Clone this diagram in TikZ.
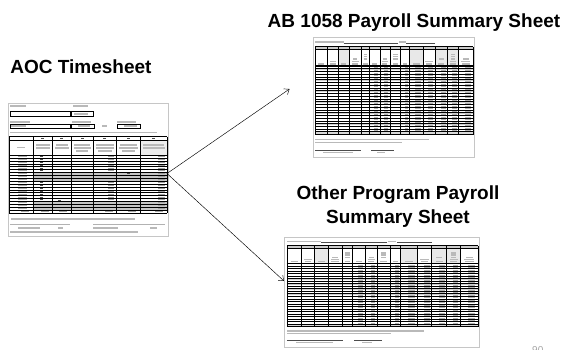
\documentclass[tikz,border=0pt]{standalone}
\usepackage{fontspec}
\setmainfont{Liberation Sans}
\usetikzlibrary{arrows.meta}
\tikzset{
  title/.style={font=\fontsize{19}{23}\selectfont\bfseries, inner sep=0pt, anchor=base},
  conn/.style={draw=black, line width=0.45pt, -{Straight Barb[length=4.5pt,width=7pt,line width=0.45pt]}},
  sheetborder/.style={draw=gray!45, line width=0.5pt, fill=white},
  txt/.style={fill=gray!55},
  dtxt/.style={fill=black!75},
  grid/.style={draw=black, line width=0.7pt},
  rowline/.style={draw=black, line width=0.35pt},
  fieldline/.style={draw=black!70, line width=0.5pt},
  pagenum/.style={font=\fontsize{10}{12}\selectfont, text=gray!70, inner sep=0pt, anchor=base west}
}
% summary sheet: #1 name, #2 x0, #3 y0, #4 width, #5 height (pixels)
\newcommand\sumsheet[5]{%
\begin{scope}[shift={(#2pt,-#3pt)}, x=#4pt, y=-#5pt]
  \draw[sheetborder] (0,0) rectangle (1,1);
  \coordinate (#1) at (0,0.5);
  % header line
  \fill[txt] (0.015,0.032) rectangle (0.19,0.048);
  \draw[fieldline] (0.19,0.05) -- (0.53,0.05);
  \fill[txt] (0.535,0.032) rectangle (0.575,0.048);
  \draw[fieldline] (0.58,0.05) -- (0.76,0.05);
  % header shading
  \fill[gray!18] (0.157,0.105) rectangle (0.225,0.24);
  \fill[gray!18] (0.597,0.105) rectangle (0.683,0.24);
  \fill[gray!18] (0.758,0.105) rectangle (0.904,0.24);
  % letter row
  \fill[gray!40] (0.015,0.08) rectangle (0.995,0.105);
  % header texts
  \foreach \a/\b in {0.015/0.09,0.09/0.157,0.157/0.225,0.225/0.298,0.298/0.353,0.353/0.416,0.416/0.478,0.478/0.545,0.545/0.597,0.597/0.683,0.683/0.758,0.758/0.835,0.835/0.904,0.904/0.995}{
    \fill[txt] ({\a+0.25*(\b-\a)},0.218) rectangle ({\b-0.25*(\b-\a)},0.23);
  }
  \foreach \a/\b in {0.09/0.157,0.225/0.298,0.416/0.478,0.683/0.758,0.835/0.904,0.904/0.995}{
    \fill[txt] ({\a+0.2*(\b-\a)},0.198) rectangle ({\b-0.2*(\b-\a)},0.21);
  }
  \foreach \a/\b in {0.225/0.298,0.298/0.353,0.416/0.478,0.478/0.545,0.758/0.835,0.835/0.904,0.904/0.995}{
    \fill[txt] ({\a+0.3*(\b-\a)},0.178) rectangle ({\b-0.3*(\b-\a)},0.19);
  }
  \foreach \a/\b in {0.298/0.353,0.478/0.545,0.835/0.904}{
    \fill[txt] ({\a+0.3*(\b-\a)},0.158) rectangle ({\b-0.3*(\b-\a)},0.17);
    \fill[txt] ({\a+0.3*(\b-\a)},0.138) rectangle ({\b-0.3*(\b-\a)},0.15);
  }
  % data rows
  \foreach \i in {0,...,23}{
    \pgfmathsetmacro\ya{0.24+\i*0.02292}
    \fill[gray!38] (0.015,\ya) rectangle (0.995,{\ya+0.009});
    \draw[rowline] (0.015,\ya) -- (0.995,\ya);
    \foreach \a/\b in {0.353/0.416,0.416/0.478,0.545/0.597,0.597/0.683,0.683/0.758,0.758/0.835,0.835/0.904,0.904/0.995}{
      \fill[gray!60] ({\b-0.55*(\b-\a)},{\ya+0.011}) rectangle ({\b-0.15*(\b-\a)},{\ya+0.019});
    }
  }
  % totals row
  \fill[gray!30] (0.015,0.79) rectangle (0.995,0.815);
  % grid
  \foreach \y in {0.08,0.105,0.24,0.79,0.815}{
    \draw[grid] (0.015,\y) -- (0.995,\y);
  }
  \foreach \c in {0.015,0.09,0.157,0.225,0.298,0.353,0.416,0.478,0.545,0.597,0.683,0.758,0.835,0.904,0.995}{
    \draw[grid] (\c,0.08) -- (\c,0.815);
  }
  % footer texts
  \fill[txt] (0.015,0.848) rectangle (0.72,0.86);
  \fill[txt] (0.015,0.873) rectangle (0.55,0.885);
  \draw[fieldline] (0.015,0.94) -- (0.3,0.94);
  \draw[fieldline] (0.36,0.94) -- (0.5,0.94);
  \fill[txt] (0.06,0.955) rectangle (0.25,0.967);
  \fill[txt] (0.4,0.955) rectangle (0.45,0.967);
\end{scope}}

\begin{document}
\begin{tikzpicture}[x=1pt,y=-1pt]
\useasboundingbox (0,0) rectangle (565,349);
\fill[white] (0,0) rectangle (565,349);

% titles
\node[title] (aoctitle) at (81,73) {AOC Timesheet};
\node[title] (abtitle) at (414,27.5) {AB 1058 Payroll Summary Sheet};
\node[title] (ottitle1) at (398,199.5) {Other Program Payroll};
\node[title] (ottitle2) at (398,223.5) {Summary Sheet};

% ---------- AOC timesheet ----------
\begin{scope}
  \draw[sheetborder] (8,103) rectangle (168,236);
  \coordinate (timesheet) at (167,173.5);
  % top fields
  \fill[txt] (10,104.8) rectangle (26,106.5);
  \fill[txt] (73,104.8) rectangle (88,106.5);
  \draw[black, line width=0.6pt] (10,111.5) rectangle (70,116);
  \draw[black, line width=0.6pt] (71.5,111.5) rectangle (93,116);
  \fill[txt] (74,113) rectangle (88,114.6);
  \fill[txt] (10,120.8) rectangle (30,122.5);
  \fill[txt] (72,120.8) rectangle (91,122.5);
  \fill[txt] (117,120.8) rectangle (136,122.5);
  \draw[black, line width=0.6pt] (10,124) rectangle (70,128.3);
  \fill[txt] (11,125.4) rectangle (26,127);
  \draw[black, line width=0.6pt] (71.5,124) rectangle (94,128.3);
  \fill[txt] (78,125.4) rectangle (90,127);
  \fill[txt] (102,125.4) rectangle (107,127);
  \draw[black, line width=0.6pt] (117,124) rectangle (140,128.3);
  \fill[txt] (124,125.4) rectangle (137,127);
  \fill[txt] (10,131.5) rectangle (157,133.2);
  % gray rows
  \fill[gray!45] (33,172.4) rectangle (167,181.1);
  \fill[gray!45] (33,201.4) rectangle (167,210);
  \fill[gray!15] (140,140.5) rectangle (167,155);
  % letter row marks
  \foreach \a/\b in {33/52.5,52.5/71,71/93,93/116.5,116.5/140,140/167}{
    \fill[black!70] ({(\a+\b)/2-1.5},137.8) rectangle ({(\a+\b)/2+1.5},139.4);
  }
  % header texts
  \fill[txt] (17,146.5) rectangle (25,148);
  \foreach \a/\b in {33/52.5,52.5/71,71/93,93/116.5,116.5/140,140/167}{
    \fill[txt] ({\a+3},144) rectangle ({\b-3},145.5);
    \fill[txt] ({\a+2.5},147) rectangle ({\b-2.5},148.5);
  }
  \foreach \a/\b in {71/93,93/116.5,116.5/140}{
    \fill[txt] ({\a+5},150) rectangle ({\b-5},151.5);
  }
  % data rows
  \foreach \i in {0,...,18}{
    \pgfmathsetmacro\ya{155+\i*2.895}
    \draw[rowline] (9,\ya) -- (167,\ya);
    \fill[gray!65] (18,{\ya+1.0}) rectangle (27,{\ya+2.0});
    \fill[gray!75] (158,{\ya+1.0}) rectangle (165,{\ya+2.0});
  }
  \foreach \i in {0,1,2,3,4,5,9,10,11,12,13,14,15}{
    \pgfmathsetmacro\ya{155+\i*2.895}
    \fill[black!70] (40,{\ya+1.0}) rectangle (42.5,{\ya+2.0});
    \fill[gray!75] (108,{\ya+1.0}) rectangle (114,{\ya+2.0});
  }
  \fill[black!70] (127,172.9) rectangle (129.5,173.9);
  \fill[black!70] (58,199.7) rectangle (60.5,200.7);
  % totals row
  \draw[rowline] (9,210) -- (167,210);
  \foreach \a/\b in {9/33,33/52.5,52.5/71,93/116.5,116.5/140,140/167}{
    \fill[gray!70] ({\b-12},210.9) rectangle ({\b-4},212.1);
  }
  % grid
  \foreach \y in {136.5,140.5,155,213}{
    \draw[grid] (9,\y) -- (167,\y);
  }
  \foreach \x in {9,33,52.5,71,93,116.5,140,167}{
    \draw[grid] (\x,136.5) -- (\x,213);
  }
  % footer
  \fill[txt] (11,218.3) rectangle (135,219.9);
  \draw[gray!60, line width=1pt] (10,224.5) -- (70,224.5);
  \draw[gray!60, line width=1pt] (93,224.5) -- (165,224.5);
  \fill[txt] (18,227.3) rectangle (40,228.9);
  \fill[txt] (58,227.3) rectangle (63,228.9);
  \fill[txt] (93,227.3) rectangle (118,228.9);
  \fill[txt] (150,227.3) rectangle (157,228.9);
  \fill[txt] (10,231.3) rectangle (138,232.9);
\end{scope}

% ---------- summary sheets ----------
\sumsheet{absheet}{313}{37}{161}{120}
\sumsheet{otsheet}{284}{237}{195}{110}

% ---------- connectors ----------
\coordinate (abend) at (289.5,89);
\coordinate (otend) at (284,281);
\draw[conn] (timesheet) -- (abend);
\draw[conn] (timesheet) -- (otend);

% page number (cut off at the bottom edge, as in the reference)
\node[pagenum] (pnum) at (532,353.8) {90};
\end{tikzpicture}
\end{document}
